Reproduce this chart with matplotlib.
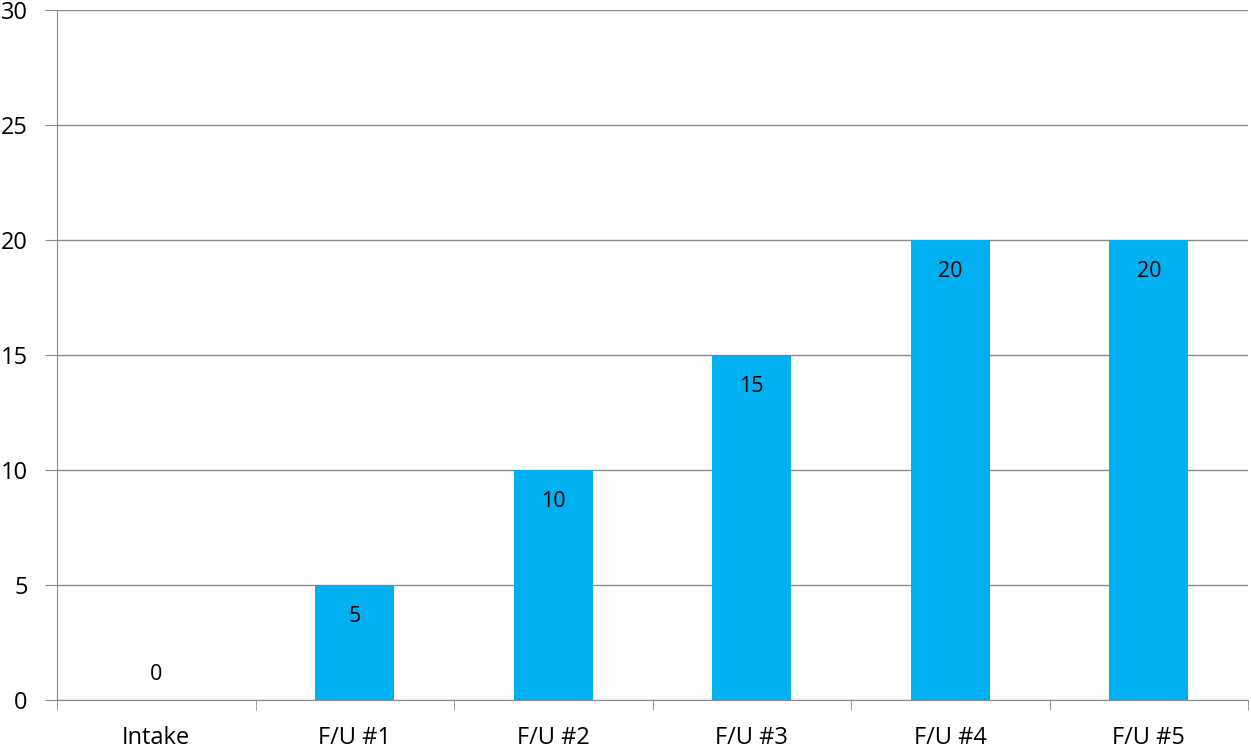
import matplotlib.pyplot as plt
import numpy as np

visits = ["Intake", "F/U #1", "F/U #2", "F/U #3", "F/U #4", "F/U #5"]
scores = [0, 5, 10, 15, 20, 20]

plt.rcParams['font.family'] = ['Open Sans', 'DejaVu Sans']

fig = plt.figure(figsize=(12.51, 7.52), dpi=100)
ax = fig.add_axes([57 / 1251, 52 / 752, 1191 / 1251, 690 / 752])

x = np.arange(len(visits))
ax.bar(x, scores, width=0.4, color="#00B0F0", zorder=3)

# value labels sit just inside the bar top; zero goes above the axis
for xi, v in zip(x, scores):
    off = 18 if v == 0 else -22.5
    ax.annotate(str(v), (xi, v), xytext=(0, off), textcoords="offset points",
                ha="center", va="center", fontsize=15.5, color="black", zorder=4)

ax.set_xlim(-0.5, len(visits) - 0.5)
ax.set_ylim(0, 30)
ax.set_yticks(range(0, 31, 5))
ax.set_xticks(x)
ax.set_xticklabels(visits)
ax.set_xticks(np.arange(-0.5, len(visits), 1.0), minor=True)

ax.tick_params(axis="x", which="major", length=0, pad=19, labelsize=17)
ax.tick_params(axis="x", which="minor", length=7, color="#8c8c8c", direction="out")
ax.tick_params(axis="y", length=9, color="#8c8c8c", pad=12, labelsize=17)

ax.grid(axis="y", color="#8c8c8c", linewidth=1, zorder=0)
for side in ("top", "right"):
    ax.spines[side].set_visible(False)
for side in ("left", "bottom"):
    ax.spines[side].set_color("#8c8c8c")

fig.savefig("out.png", dpi=100)
